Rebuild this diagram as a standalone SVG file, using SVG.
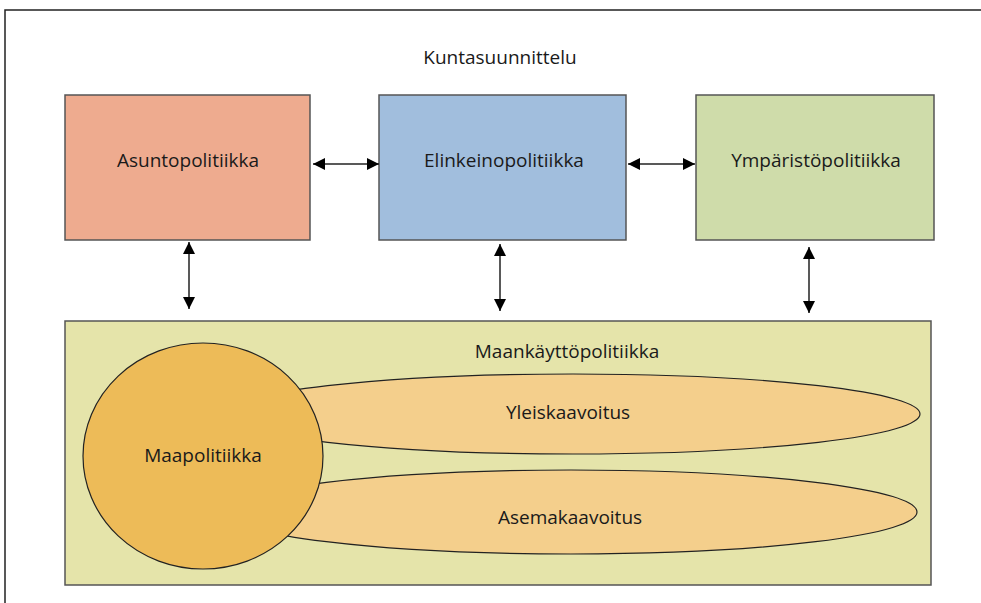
<svg xmlns="http://www.w3.org/2000/svg" width="981" height="603" viewBox="0 0 981 603">
<defs>
<marker id="ah" viewBox="0 0 10 10" refX="10" refY="5" markerWidth="14" markerHeight="12" markerUnits="userSpaceOnUse" orient="auto-start-reverse">
<path d="M0,0 L10,5 L0,10 z" fill="#000"/>
</marker>
</defs>
<style>
.t{font-family:"Open Sans","Liberation Sans",Arial,sans-serif;font-size:19px;fill:#1a1a1a;text-anchor:middle}
.box{stroke:#555;stroke-width:1.5}
.conn line{stroke:#222;stroke-width:1.5;marker-start:url(#ah);marker-end:url(#ah)}
</style>
<rect width="981" height="603" fill="#fff"/>
<path d="M5,603 L5,10 L981,10" fill="none" stroke="#222" stroke-width="1.5"/>
<text class="t" x="500" y="64">Kuntasuunnittelu</text>
<g id="asuntopolitiikka">
<rect class="box" x="65" y="95" width="245" height="145" fill="#EEAB8F"/>
<text class="t" x="188" y="167">Asuntopolitiikka</text>
</g>
<g id="elinkeinopolitiikka">
<rect class="box" x="379" y="95" width="247" height="145" fill="#A1BEDD"/>
<text class="t" x="504" y="167">Elinkeinopolitiikka</text>
</g>
<g id="ymparistopolitiikka">
<rect class="box" x="696" y="95" width="238" height="145" fill="#CFDCAA"/>
<text class="t" x="816" y="167">Ympäristöpolitiikka</text>
</g>
<g id="maankayttopolitiikka">
<rect class="box" x="65" y="321" width="866" height="264" fill="#E5E4AA"/>
<text class="t" x="567" y="358">Maankäyttöpolitiikka</text>
</g>
<g id="yleiskaavoitus">
<ellipse cx="573" cy="414" rx="347" ry="40" fill="#F4CF8C" stroke="#222" stroke-width="1.2"/>
<text class="t" x="568" y="419">Yleiskaavoitus</text>
</g>
<g id="asemakaavoitus">
<ellipse cx="571" cy="512" rx="346" ry="42" fill="#F4CF8C" stroke="#222" stroke-width="1.2"/>
<text class="t" x="570" y="524">Asemakaavoitus</text>
</g>
<g id="maapolitiikka">
<ellipse cx="203" cy="456" rx="120" ry="113" fill="#EDBB58" stroke="#222" stroke-width="1.2"/>
<text class="t" x="203" y="462">Maapolitiikka</text>
</g>
<g class="conn" id="connectors">
<line x1="313" y1="164" x2="379" y2="164"/>
<line x1="628" y1="164" x2="695" y2="164"/>
<line x1="189" y1="242" x2="189" y2="309"/>
<line x1="500" y1="244" x2="500" y2="311"/>
<line x1="809" y1="247" x2="809" y2="313"/>
</g>
</svg>
